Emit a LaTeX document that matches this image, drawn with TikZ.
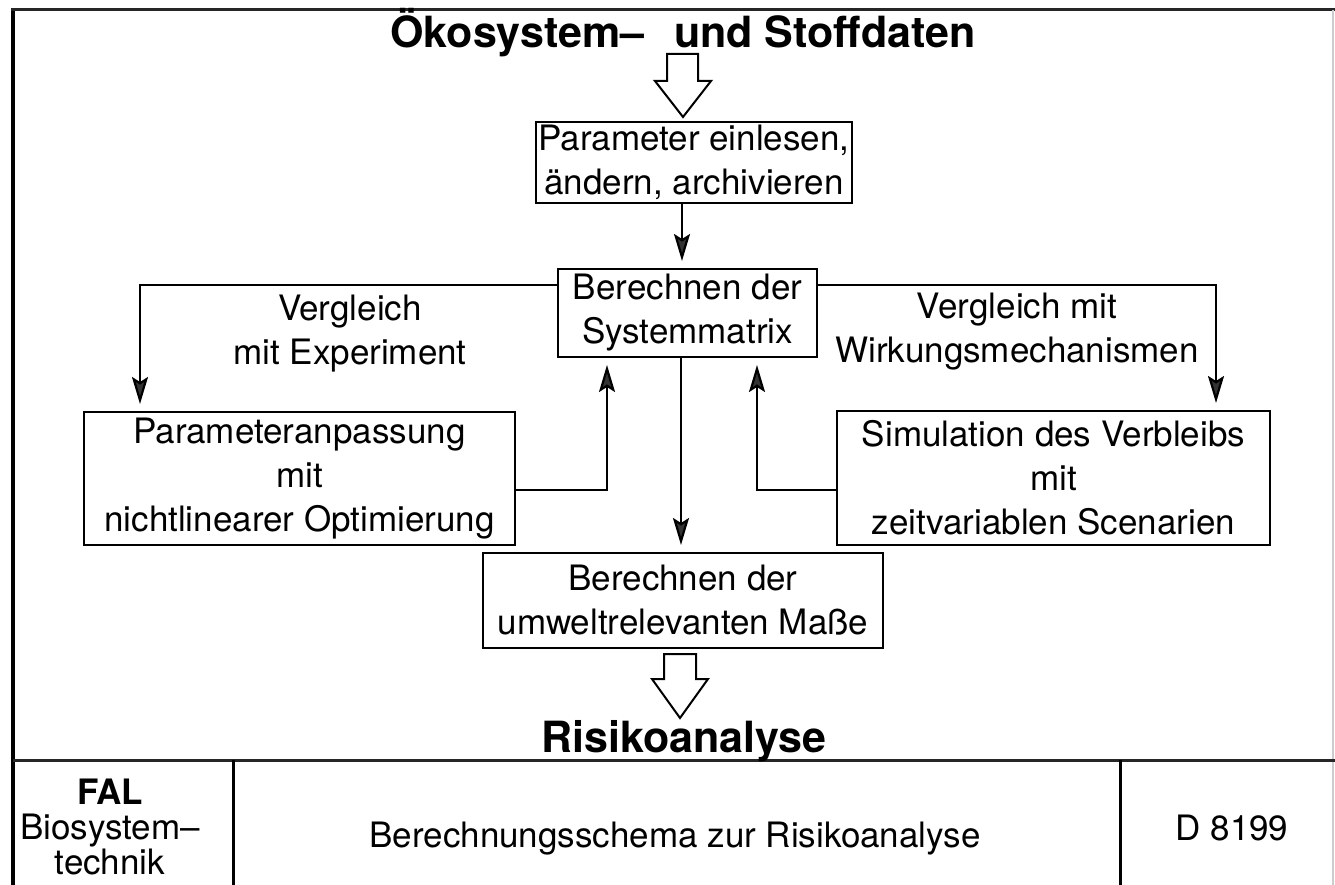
\documentclass[tikz,border=0pt]{standalone}
\usepackage{fontspec}
\setmainfont{TeX Gyre Heros}
\usetikzlibrary{arrows.meta,calc}

% text sizes (1pt = 1 unit of the drawing grid)
\newcommand\diafont{\fontsize{35}{44}\selectfont}
\newcommand\headfont{\fontsize{43}{50}\selectfont\bfseries}
\newcommand\blockfont{\fontsize{35}{35}\selectfont}

\begin{document}
\begin{tikzpicture}[x=1pt,y=-1pt,
  box/.style={draw, line width=2pt, inner sep=0pt, align=center, font=\diafont},
  lbl/.style={inner sep=0pt, align=center, font=\diafont},
  conn/.style={line width=2.2pt,
    -{Stealth[length=27pt,width=16pt,inset=5pt,fill=black!80]},
    shorten >=7pt},
  hollow/.style={draw, line width=2pt, fill=white, line join=miter},
  frame/.style={line width=3pt, black!85},
  cell/.style={line width=3pt, black}]

\useasboundingbox (0,0) rectangle (1335,885);

% outer frame and title block
\draw[line width=4pt] (13,885) -- (13,9);
\draw[frame] (11,10) -- (1335,10);
\draw[line width=1.5pt, black!20] (1333,10) -- (1333,885);
\draw[frame] (13,760) -- (1335,760);
\draw[cell] (233,760) -- (233,885);
\draw[cell] (1120,760) -- (1120,885);

% headings
\node[anchor=base west, font=\headfont, inner sep=0pt] (title) at (390,48)
  {Ökosystem–\hspace{30pt}und Stoffdaten};
\node[anchor=base, font=\headfont, inner sep=0pt] (risk) at (684,752) {Risikoanalyse};

% process boxes
\node[box, minimum width=316, minimum height=81] (p1) at (694,162.5) {Parameter einlesen,\\ändern, archivieren};
\node[box, minimum width=259, minimum height=88] (m1) at (687.5,313) {Berechnen der\\Systemmatrix};
\node[box, minimum width=431, minimum height=133] (lbox) at (299.5,478.5) {Parameteranpassung\\mit\\nichtlinearer Optimierung};
\node[box, minimum width=433, minimum height=134] (rbox) at (1053.5,478) {Simulation des Verbleibs\\mit\\zeitvariablen Scenarien};
\node[box, minimum width=400, minimum height=95] (m3) at (683,600.5) {Berechnen der\\umweltrelevanten Maße};

% loop labels
\node[lbl] (llab) at (350,334) {Vergleich\\mit Experiment};
\node[lbl] (rlab) at (1017,332) {Vergleich mit\\Wirkungsmechanismen};

% bend and column positions of the connectors
\coordinate (cA) at (682,0);
\coordinate (cB) at (681,0);
\coordinate (lTurn) at (140,285);
\coordinate (rTurn) at (1216,285);
\coordinate (lUp) at (607,490);
\coordinate (rUp) at (757,490);

% hollow input and output arrows
\coordinate (t1) at ($(p1.north -| 683,0)+(0,-4)$);
\draw[hollow] (t1) -- ++(-28,-36) -- ++(12,0) -- ++(0,-27) -- ++(31,0)
  -- ++(0,27) -- ++(13,0) -- cycle;
\coordinate (t2) at ($(m3.south -| 680,0)+(0,5)$);
\draw[hollow] ($(t2)+(-16,0)$) -- ++(0,25) -- ++(-12,0) -- ++(28,39)
  -- ++(28,-39) -- ++(-12,0) -- ++(0,-25) -- cycle;

% connectors
\draw[conn] (p1.south -| cA) -- (m1.north -| cA);
\draw[conn] (m1.west |- lTurn) -- (lTurn) -- (lbox.north -| lTurn);
\draw[conn] (m1.east |- rTurn) -- (rTurn) -- (rbox.north -| rTurn);
\draw[conn] (lbox.east |- lUp) -- (lUp) -- (m1.south -| lUp);
\draw[conn] (rbox.west |- rUp) -- (rUp) -- (m1.south -| rUp);
\draw[conn] (m1.south -| cB) -- (m3.north -| cB);

% title block texts
\node[inner sep=0pt, align=center, font=\blockfont] (fal) at (110,827)
  {\textbf{FAL}\\Biosystem–\\technik};
\node[anchor=base, inner sep=0pt, font=\diafont] (schema) at (675,847)
  {Berechnungsschema zur Risikoanalyse};
\node[anchor=base, inner sep=0pt, font=\diafont] (num) at (1232,840) {D 8199};

\end{tikzpicture}
\end{document}
